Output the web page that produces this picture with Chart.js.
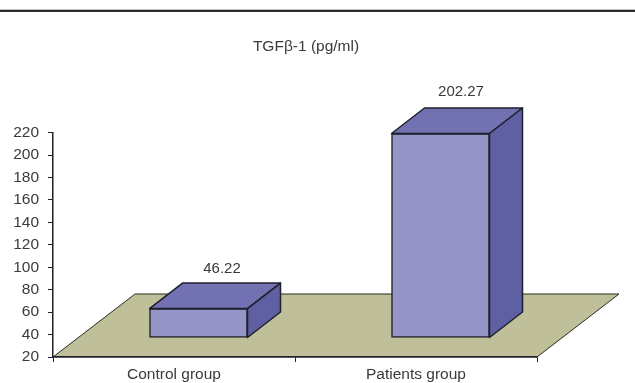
<!DOCTYPE html>
<html>
<head>
<meta charset="utf-8">
<style>
  html, body { margin: 0; padding: 0; background: #fff; }
  #wrap { width: 635px; height: 383px; }
</style>
<script src="https://cdn.jsdelivr.net/npm/chart.js@4"></script>
</head>
<body>
<div id="wrap"><canvas id="chart" width="635" height="383"></canvas></div>
<script>
const categories = ['Control group', 'Patients group'];
const tgfValues = [46.22, 202.27];
const chartTitle = 'TGFβ-1 (pg/ml)';

const fontFamily = '"Liberation Sans", Arial, sans-serif';
const textColor = '#3a3a3a';
const lineColor = '#20202c';

// Fake 3D: the floor depth and where the bars stand on it
const floorDepth = { x: 82, y: 63 };
const barShift = { x: 24.5, y: 19 };
const barDepth = { x: 33, y: 25.5 };
const labelNudge = [[7, 3], [4, 1]];

function polygon(ctx, points, fill) {
  ctx.beginPath();
  points.forEach((p, i) => (i ? ctx.lineTo(p[0], p[1]) : ctx.moveTo(p[0], p[1])));
  ctx.closePath();
  ctx.fillStyle = fill;
  ctx.fill();
  ctx.stroke();
}

const sceneryPlugin = {
  id: 'scenery',
  afterLayout(chart) {
    // title is centred a bit right of the page centre
    chart.titleBlock.left = 0;
    chart.titleBlock.right = 612;
  },
  beforeDraw(chart) {
    const { ctx, chartArea: a } = chart;
    ctx.save();
    // rule across the top of the page
    ctx.fillStyle = '#bdbdbd';
    ctx.fillRect(0, 9, chart.width, 1);
    ctx.fillStyle = '#2b2b2b';
    ctx.fillRect(0, 10, chart.width, 2);
    // floor
    ctx.strokeStyle = '#2a2a20';
    ctx.lineWidth = 1;
    polygon(ctx, [
      [a.left, a.bottom],
      [a.left + floorDepth.x, a.bottom - floorDepth.y],
      [a.right + floorDepth.x, a.bottom - floorDepth.y],
      [a.right, a.bottom]
    ], '#bfbf9a');
    ctx.restore();
  },
  beforeDatasetsDraw(chart) {
    chart.ctx.save();
    chart.ctx.translate(barShift.x, -barShift.y);
  },
  afterDatasetsDraw(chart) {
    const { ctx } = chart;
    ctx.strokeStyle = lineColor;
    ctx.lineWidth = 1.5;
    ctx.lineJoin = 'round';
    chart.getDatasetMeta(0).data.forEach((bar, i) => {
      const left = bar.x - bar.width / 2;
      const right = bar.x + bar.width / 2;
      const dx = barDepth.x;
      const dy = barDepth.y;
      polygon(ctx, [[left, bar.y], [left + dx, bar.y - dy], [right + dx, bar.y - dy], [right, bar.y]], '#7272b2');
      polygon(ctx, [[right, bar.y], [right + dx, bar.y - dy], [right + dx, bar.base - dy], [right, bar.base]], '#5f5fa4');
      ctx.fillStyle = textColor;
      ctx.font = '15px ' + fontFamily;
      ctx.textAlign = 'center';
      ctx.textBaseline = 'middle';
      ctx.fillText(String(tgfValues[i]), bar.x + dx / 2 + labelNudge[i][0], bar.y - dy - 17 + labelNudge[i][1]);
    });
    ctx.restore();
  }
};

new Chart(document.getElementById('chart'), {
  type: 'bar',
  data: {
    labels: categories,
    datasets: [{
      data: tgfValues,
      base: 20,
      backgroundColor: '#9595c8',
      borderColor: lineColor,
      borderWidth: 1.5,
      borderSkipped: false,
      barThickness: 98
    }]
  },
  options: {
    responsive: false,
    animation: false,
    layout: { padding: { left: 0, right: 98, top: 0, bottom: 0 } },
    plugins: {
      legend: { display: false },
      tooltip: { enabled: false },
      title: {
        display: true,
        text: chartTitle,
        color: textColor,
        font: { family: fontFamily, size: 15.5, weight: 'normal' },
        padding: { top: 37, bottom: 77 }
      }
    },
    scales: {
      x: {
        afterFit(scale) { scale.height = 26; },
        border: { color: lineColor, width: 1.5 },
        grid: { drawOnChartArea: false, tickLength: 5, tickColor: lineColor },
        ticks: { color: textColor, font: { family: fontFamily, size: 15.5 }, padding: 3, maxRotation: 0 }
      },
      y: {
        min: 20,
        max: 220,
        afterFit(scale) { scale.width = 53; },
        border: { color: lineColor, width: 1.5 },
        grid: { drawOnChartArea: false, tickLength: 5, tickColor: lineColor },
        ticks: { stepSize: 20, color: textColor, font: { family: fontFamily, size: 15.5 }, padding: 9 }
      }
    }
  },
  plugins: [sceneryPlugin]
});
</script>
</body>
</html>
